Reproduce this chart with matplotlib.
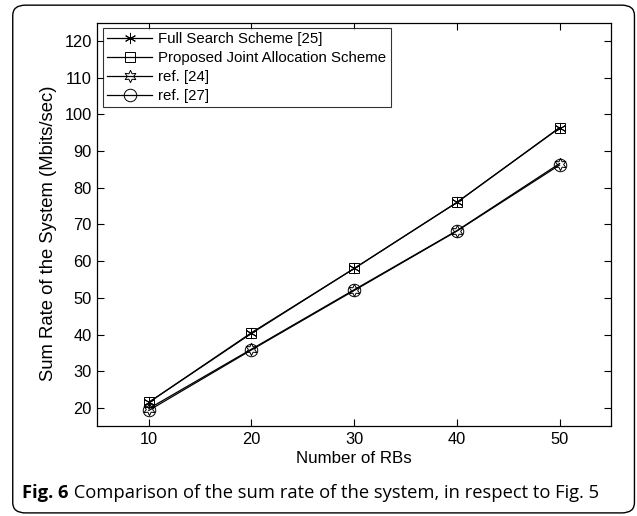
import matplotlib
matplotlib.use("Agg")
import matplotlib.pyplot as plt
from matplotlib.patches import FancyBboxPatch

# Data
rbs = [10, 20, 30, 40, 50]
full_search = [21.5, 40.5, 58.0, 76.0, 96.3]
proposed = [21.5, 40.3, 58.0, 76.0, 96.4]
ref_24 = [19.8, 36.0, 52.2, 68.3, 86.6]
ref_27 = [19.3, 35.8, 52.0, 68.2, 86.2]

series_labels = [
    "Full Search Scheme [25]",
    "Proposed Joint Allocation Scheme",
    "ref. [24]",
    "ref. [27]",
]
x_ticks = [10, 20, 30, 40, 50]
y_ticks = [20, 30, 40, 50, 60, 70, 80, 90, 100, 110, 120]

plt.rcParams["font.family"] = ["Liberation Sans", "DejaVu Sans"]

fig = plt.figure(figsize=(6.37, 5.16), dpi=100)
ax = fig.add_axes([0.153, 0.174, 0.806, 0.782])

# marker styles: asterisk, square, hexagram, circle
marker_styles = [(6, 2, 0), "s", (6, 1, 0), "o"]
marker_sizes = [8, 7, 9, 9]
all_series = [full_search, proposed, ref_24, ref_27]

for values, label, mk, ms in zip(all_series, series_labels, marker_styles, marker_sizes):
    ax.plot(
        rbs,
        values,
        color="black",
        linewidth=0.9,
        marker=mk,
        markersize=ms,
        markerfacecolor="none",
        markeredgecolor="black",
        markeredgewidth=0.7,
        label=label,
    )

ax.set_xlim(5, 55)
ax.set_ylim(15, 125)
ax.set_xticks(x_ticks)
ax.set_yticks(y_ticks)
ax.tick_params(direction="in", top=True, right=True, labelsize=11.8, length=5, width=0.8, pad=4)
for spine in ax.spines.values():
    spine.set_linewidth(0.9)
ax.set_xlabel("Number of RBs", fontsize=12.2, labelpad=3)
ax.set_ylabel("Sum Rate of the System (Mbits/sec)", fontsize=13.3)
ax.yaxis.set_label_coords(-0.078, 0.478)

leg = ax.legend(
    loc="upper left",
    fontsize=10.8,
    frameon=True,
    fancybox=False,
    edgecolor="black",
    borderpad=0.3,
    labelspacing=0.32,
    handlelength=3.0,
    handletextpad=0.4,
    borderaxespad=0.35,
)
leg.get_frame().set_linewidth(0.8)

# rounded outer frame around the figure and caption
frame = FancyBboxPatch(
    (0.020, 0.006), 0.976, 0.984,
    boxstyle="round,pad=0,rounding_size=0.02",
    transform=fig.transFigure,
    facecolor="none",
    edgecolor="black",
    linewidth=1.0,
)
fig.patches.append(frame)

cap = fig.text(0.035, 0.045, "Fig. 6", fontsize=13.2, fontweight="bold",
               family=["Open Sans", "DejaVu Sans"], va="center")
ax.annotate(
    " Comparison of the sum rate of the system, in respect to Fig. 5",
    xy=(1, 0), xycoords=cap, va="bottom", ha="left",
    fontsize=13.2, family=["Open Sans", "DejaVu Sans"],
    annotation_clip=False,
)

fig.savefig("out.png", dpi=100)
plt.close(fig)
